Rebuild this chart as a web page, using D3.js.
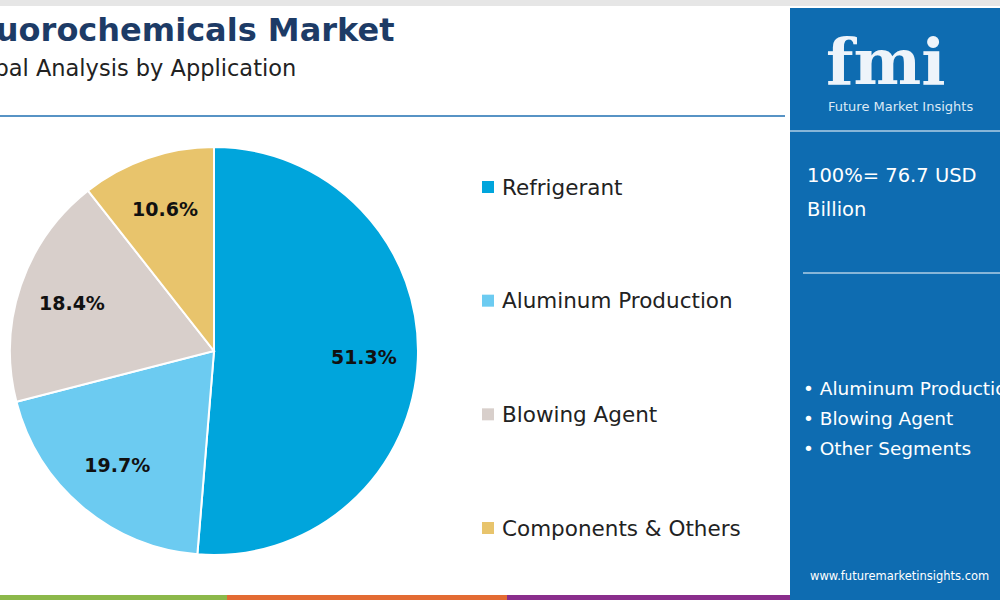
<!DOCTYPE html>
<html><head><meta charset="utf-8">
<script src="https://cdn.jsdelivr.net/npm/d3@7"></script>
<style>body{margin:0;background:#fff}svg{display:block;font-family:"DejaVu Sans",sans-serif}</style>
</head><body><div id="draw"></div>
<script>
var categories = ["Refrigerant", "Aluminum Production", "Blowing Agent", "Components & Others"];
var shares = [51.3, 19.7, 18.4, 10.6];
var colors = ["#00a5dc", "#6ccbf1", "#d8cfcb", "#e8c46c"];
var sideItems = ["Aluminum Production", "Blowing Agent", "Other Segments"];

var svg = d3.select('#draw').append('svg').attr('width', 1000).attr('height', 600);

// header
svg.append('rect').attr('x', 0).attr('y', 0).attr('width', 1000).attr('height', 6).attr('fill', '#e6e6e6');
svg.append('text').attr('x', -37).attr('y', 41).attr('font-size', 32).attr('font-weight', 700)
  .attr('fill', '#1d3b66').text('Fluorochemicals Market');
svg.append('text').attr('x', -43).attr('y', 76).attr('font-size', 22.5)
  .attr('fill', '#222').text('Global Analysis by Application');
svg.append('line').attr('x1', 0).attr('x2', 785).attr('y1', 116).attr('y2', 116)
  .attr('stroke', '#1f6fb2').attr('stroke-width', 1.5);

// pie
var pie = d3.pie().sort(null).value(function(d){ return d; });
var arc = d3.arc().innerRadius(0).outerRadius(204);
var g = svg.append('g').attr('transform', 'translate(214,351)');
var arcs = pie(shares);
g.selectAll('path').data(arcs).enter().append('path')
  .attr('d', arc).attr('fill', function(d, i){ return colors[i]; })
  .attr('stroke', '#fff').attr('stroke-width', 2);
var labelArc = d3.arc().innerRadius(150).outerRadius(150);
g.selectAll('text').data(arcs).enter().append('text')
  .attr('transform', function(d){ return 'translate(' + labelArc.centroid(d) + ')'; })
  .attr('text-anchor', 'middle').attr('dy', '0.35em')
  .attr('font-size', 19).attr('font-weight', 700).attr('fill', '#111')
  .text(function(d){ return d.data.toFixed(1) + '%'; });

// legend
var ly = d3.scalePoint().domain(categories).range([187, 528]);
var lg = svg.selectAll('.lg').data(categories).enter().append('g')
  .attr('transform', function(d){ return 'translate(482,' + ly(d) + ')'; });
lg.append('rect').attr('x', 0).attr('y', -6).attr('width', 12).attr('height', 12)
  .attr('fill', function(d, i){ return colors[i]; });
lg.append('text').attr('x', 20).attr('dy', '0.35em').attr('font-size', 21.5).attr('fill', '#222')
  .text(function(d){ return d; });

// side panel
svg.append('rect').attr('x', 790).attr('y', 8).attr('width', 210).attr('height', 587).attr('fill', '#0e6cb1');
svg.append('text').attr('x', 826).attr('y', 84).attr('font-size', 64).attr('font-weight', 900)
  .attr('font-family', 'DejaVu Serif').attr('fill', '#eef4fa').text('fmi');
svg.append('text').attr('x', 828).attr('y', 111).attr('font-size', 13).attr('fill', '#dce9f5').text('Future Market Insights');
svg.append('line').attr('x1', 790).attr('x2', 1000).attr('y1', 131).attr('y2', 131).attr('stroke', '#fff');
svg.append('text').attr('x', 807).attr('y', 182).attr('font-size', 19.5).attr('fill', '#fff').text('100%= 76.7 USD');
svg.append('text').attr('x', 807).attr('y', 216).attr('font-size', 19.5).attr('fill', '#fff').text('Billion');
svg.append('line').attr('x1', 803).attr('x2', 1000).attr('y1', 273).attr('y2', 273).attr('stroke', '#fff');
svg.selectAll('.si').data(sideItems).enter().append('text')
  .attr('x', 803).attr('y', function(d, i){ return 395 + i * 30; })
  .attr('font-size', 18.5).attr('fill', '#fff').text(function(d){ return '\u2022 ' + d; });
svg.append('text').attr('x', 810).attr('y', 580).attr('font-size', 11.5).attr('fill', '#fff').text('www.futuremarketinsights.com');

// bottom strip
var strip = [["#8cb84a", 0, 227], ["#e36b33", 227, 507], ["#8a2e8c", 507, 790], ["#0e6cb1", 790, 1000]];
svg.selectAll('.st').data(strip).enter().append('rect')
  .attr('x', function(d){ return d[1]; }).attr('y', 595).attr('height', 5)
  .attr('width', function(d){ return d[2] - d[1]; }).attr('fill', function(d){ return d[0]; });
</script></body></html>
